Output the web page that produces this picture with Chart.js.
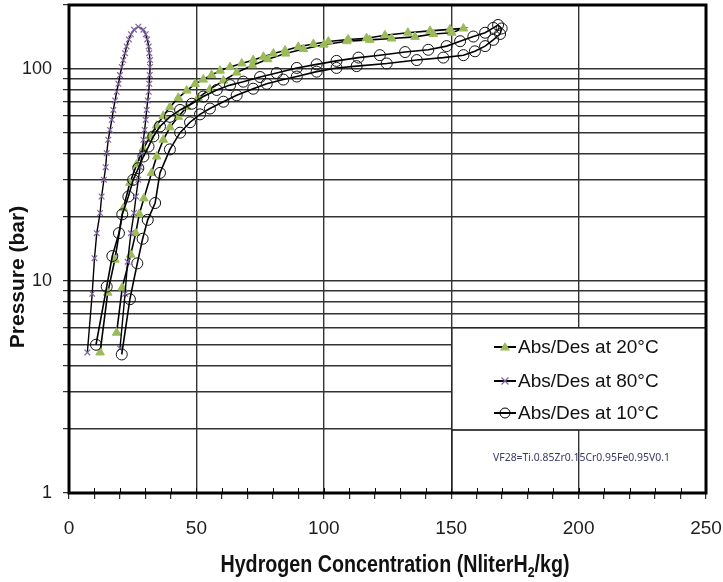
<!DOCTYPE html>
<html>
<head>
<meta charset="utf-8">
<script src="https://cdn.jsdelivr.net/npm/chart.js@4.4.1/dist/chart.umd.min.js"></script>
<style>
  body { margin: 0; background: #fff; }
  #wrap { width: 723px; height: 582px; }
</style>
</head>
<body>
<div id="wrap"><canvas id="myChart" width="723" height="582"></canvas></div>
<script>
// 20°C loop: absorption going up, then desorption coming back down
const conc20 = [12.2, 15.2, 18, 21.3, 23.9, 26.6, 29.2, 31.8, 34.4, 37, 39.6, 42.9, 46.2, 49.5, 52.7, 56, 59.3, 63.2, 67.8, 72.3, 76.3, 80.2, 84.8, 90, 95.9, 101.8, 109.6, 116.8, 124, 133, 141.7, 149.5, 154.8,
  150.2, 143, 135.8, 126.6, 118, 109, 100, 92, 85, 78, 72, 65.8, 60.6, 55.3, 50.7, 46.2, 42.9, 39.6, 37, 34.4, 32.4, 29.4, 27.6, 26.2, 24.2, 20.9, 18.7];
const pres20 = [4.6, 8.8, 12.6, 22, 29, 35.5, 42, 48, 54, 60, 66, 73, 79, 85, 89, 93.5, 98, 102, 106, 110, 114, 118, 122, 127, 131, 134.5, 137.5, 139.5, 144, 148, 151, 153.5, 155,
  148, 146, 141.5, 139, 137, 135, 130, 124, 118, 111, 104, 96, 88, 80, 73, 66, 59.4, 53, 46.3, 38.6, 32.3, 24.5, 20.7, 16.8, 13.3, 9.3, 5.7];

// 80°C loop
const conc80 = [7.2, 9.1, 10, 10.9, 12.2, 12.8, 13.7, 14.4, 14.8, 15.4, 16.1, 16.8, 17.4, 18.1, 18.7, 19.4, 20, 20.7, 21.3, 22, 22.6, 23.5, 24.3, 25.5, 27.2,
  29.2, 30.1, 30.7, 31.3, 31.5, 31.8, 31.8, 31.7, 31.5, 31.3, 30.9, 30.5, 30.1, 29.7, 29.2, 28.7, 27.9, 27.2, 26.3, 25.5, 24.3, 23, 22, 20];
const pres80 = [4.6, 8.7, 12.8, 16.8, 20.9, 25, 30, 34.4, 40, 46.3, 51.5, 57.5, 64, 71, 78, 85, 93.5, 102, 110, 118.5, 127.6, 137.6, 145.6, 153, 158,
  153, 145.6, 137.6, 127.6, 118.5, 110, 102, 93.5, 85, 78, 71, 64, 57.5, 51.5, 46.3, 40, 34.4, 30, 25, 20.9, 16.8, 12.3, 8.7, 4.8];

// 10°C loop
const conc10 = [10.6, 14.8, 17, 19.6, 20.9, 23.3, 25.2, 27.2, 29.2, 31.2, 33.1, 35.7, 39.6, 43.6, 48.2, 52.7, 58, 63.2, 68.4, 75, 81.5, 89.4, 97.2, 105, 113.6, 122, 131.9, 141, 148.2, 153.5, 158.7, 163.3, 166.5, 168.4,
  169.8, 169.2, 166.5, 163.3, 159.3, 154.8, 146.9, 136.5, 124.7, 112.9, 105, 97.2, 89.4, 84.1, 77.6, 72.3, 65.8, 60.6, 55.3, 51.4, 47.5, 43.6, 39.6, 35.7, 33.8, 30.9, 28.9, 26.8, 23.9, 20.7];
const pres10 = [5, 9.4, 13.1, 16.8, 20.6, 25, 30, 34, 38.6, 43, 48, 53.5, 59.4, 64, 68.5, 74, 79.5, 83.8, 87, 91.5, 95.6, 101, 105, 109, 113, 116, 120, 123, 128, 135, 142, 148, 156, 161,
  155, 146, 137, 128, 121, 116, 113, 110, 106, 103, 101, 97, 92, 89, 85, 80.6, 75, 70, 65, 61, 56, 50, 41.7, 32.3, 23.3, 19.4, 15.8, 12.1, 8.2, 4.5];

const seriesNames = ['Abs/Des at 20°C', 'Abs/Des at 80°C', 'Abs/Des at 10°C'];
const yTickValues = [1, 2, 3, 4, 5, 6, 7, 8, 9, 10, 20, 30, 40, 50, 60, 70, 80, 90, 100, 200];
const yLabelValues = [1, 10, 100];
const alloyNote = 'VF28=Ti.0.85Zr0.15Cr0.95Fe0.95V0.1';

const toPoints = (xs, ys) => xs.map((x, i) => ({ x: x, y: ys[i] }));

const green = '#9bbb59';
const purple = '#8064a2';

const ctx = document.getElementById('myChart').getContext('2d');

// no label overhang padding, the plot box is placed by layout.padding only
function noOverhang(s) {
  s.paddingLeft = 0;
  s.paddingRight = 0;
  s.paddingTop = 0;
  s.paddingBottom = 0;
}

// frame, inner x ticks, legend box and axis titles
const decorations = {
  id: 'decorations',
  afterDraw(chart) {
    const c = chart.ctx;
    const a = chart.chartArea;
    const xs = chart.scales.x;
    c.save();

    // minor ticks poking into the plot
    c.strokeStyle = '#000';
    c.lineWidth = 1;
    for (let v = 10; v < 250; v += 10) {
      const px = Math.round(xs.getPixelForValue(v)) + 0.5;
      c.beginPath();
      c.moveTo(px, a.bottom - 5);
      c.lineTo(px, a.bottom);
      c.stroke();
    }

    // legend box
    const lx = 452, ly = 328, lw = a.right - 452, lh = 102;
    c.fillStyle = '#fff';
    c.fillRect(lx, ly, lw, lh);
    c.strokeStyle = '#222';
    c.lineWidth = 1.2;
    c.strokeRect(lx, ly, lw, lh);
    c.strokeRect(lx, ly + lh, lw, a.bottom - ly - lh);

    const rows = [347, 381, 413];
    c.font = '19px "Liberation Sans", Arial, sans-serif';
    c.textBaseline = 'middle';
    c.textAlign = 'left';
    rows.forEach((y, i) => {
      c.strokeStyle = '#000';
      c.lineWidth = 2;
      c.beginPath();
      c.moveTo(494, y);
      c.lineTo(516, y);
      c.stroke();
      if (i === 0) {
        c.fillStyle = green;
        c.beginPath();
        c.moveTo(505, y - 5);
        c.lineTo(510, y + 3.5);
        c.lineTo(500, y + 3.5);
        c.closePath();
        c.fill();
      } else if (i === 1) {
        c.strokeStyle = purple;
        c.lineWidth = 1.2;
        c.beginPath();
        c.moveTo(501.5, y - 3.5); c.lineTo(508.5, y + 3.5);
        c.moveTo(508.5, y - 3.5); c.lineTo(501.5, y + 3.5);
        c.stroke();
      } else {
        c.strokeStyle = '#000';
        c.lineWidth = 1;
        c.fillStyle = '#fff';
        c.beginPath();
        c.arc(505, y, 5, 0, Math.PI * 2);
        c.fill();
        c.stroke();
        c.beginPath();
        c.lineWidth = 2;
        c.moveTo(500, y); c.lineTo(510, y);
        c.stroke();
      }
      c.fillStyle = '#111';
      c.fillText(seriesNames[i], 518, y + 1);
    });

    c.fillStyle = '#3a3a66';
    c.font = '11px "Noto Sans", sans-serif';
    c.fillText(alloyNote, 493, 458, 177);

    // plot frame
    c.strokeStyle = '#000';
    c.lineWidth = 3;
    c.strokeRect(a.left, a.top, a.right - a.left, a.bottom - a.top);

    // y title
    c.fillStyle = '#111';
    c.font = 'bold 21px "Liberation Sans", Arial, sans-serif';
    c.textAlign = 'center';
    c.translate(18, 277);
    c.rotate(-Math.PI / 2);
    c.fillText('Pressure (bar)', 0, 0);
    c.setTransform(1, 0, 0, 1, 0, 0);

    // x title with subscript, squeezed horizontally
    const squeeze = 0.82;
    const big = 'bold 24px "Liberation Sans", Arial, sans-serif';
    const small = 'bold 15px "Liberation Sans", Arial, sans-serif';
    const parts = [['Hydrogen Concentration (NliterH', big, 0], ['2', small, 5], ['/kg)', big, 0]];
    let total = 0;
    parts.forEach(p => { c.font = p[1]; total += c.measureText(p[0]).width; });
    c.translate(395 - total * squeeze / 2, 0);
    c.scale(squeeze, 1);
    let x = 0;
    c.textAlign = 'left';
    c.textBaseline = 'alphabetic';
    parts.forEach(p => {
      c.font = p[1];
      c.fillText(p[0], x, 572 + p[2]);
      x += c.measureText(p[0]).width;
    });
    c.restore();
  }
};

const myChart = new Chart(ctx, {
  type: 'scatter',
  data: {
    datasets: [{
      label: seriesNames[0],
      data: toPoints(conc20, pres20),
      showLine: true,
      borderColor: '#000',
      borderWidth: 1.6,
      pointStyle: 'triangle',
      pointRadius: 5,
      pointBackgroundColor: green,
      pointBorderColor: green,
      pointBorderWidth: 1,
      order: 3
    },
    {
      label: seriesNames[1],
      data: toPoints(conc80, pres80),
      showLine: true,
      borderColor: '#000',
      borderWidth: 1.4,
      pointStyle: 'crossRot',
      pointRadius: 4,
      pointBorderColor: purple,
      pointBorderWidth: 1.2,
      order: 2
    },
    {
      label: seriesNames[2],
      data: toPoints(conc10, pres10),
      showLine: true,
      borderColor: '#000',
      borderWidth: 1.6,
      pointStyle: 'circle',
      pointRadius: 5.5,
      pointBackgroundColor: 'rgba(0,0,0,0)',
      pointBorderColor: '#111',
      pointBorderWidth: 1,
      order: 1
    }]
  },
  options: {
    responsive: false,
    animation: false,
    layout: { autoPadding: false, padding: { left: 0, top: 5, right: 17, bottom: 0 } },
    plugins: {
      legend: { display: false },
      tooltip: { enabled: false }
    },
    scales: {
      x: {
        type: 'linear',
        position: 'bottom',
        min: 0,
        max: 250,
        afterFit: (s) => { s.height = 89; noOverhang(s); },
        border: { display: false },
        grid: {
          color: (c) => (c.tick && c.tick.value % 50 === 0 ? '#333' : 'rgba(0,0,0,0)'),
          lineWidth: 1.4,
          drawTicks: true,
          tickLength: 6,
          tickColor: '#000',
          tickWidth: 1
        },
        ticks: {
          stepSize: 10,
          autoSkip: false,
          maxRotation: 0,
          padding: 18,
          color: '#1e1e1e',
          font: { family: '"Liberation Sans", Arial', size: 19 },
          callback: (v) => (v % 50 === 0 ? String(v) : '')
        }
      },
      y: {
        type: 'logarithmic',
        position: 'left',
        min: 1,
        max: 200,
        afterFit: (s) => { s.width = 69; noOverhang(s); },
        afterBuildTicks: (s) => { s.ticks = yTickValues.map(v => ({ value: v })); },
        border: { display: false },
        grid: {
          color: '#333',
          lineWidth: 1.4,
          drawTicks: true,
          tickLength: 6,
          tickColor: '#000',
          tickWidth: 1
        },
        ticks: {
          autoSkip: false,
          padding: 11,
          color: '#1e1e1e',
          font: { family: '"Liberation Sans", Arial', size: 18 },
          callback: (v) => (yLabelValues.includes(v) ? String(v) : '')
        }
      }
    }
  },
  plugins: [decorations]
});
</script>
</body>
</html>
